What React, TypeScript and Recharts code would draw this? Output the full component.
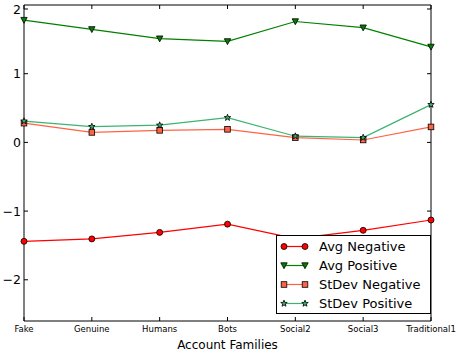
import React from "react";
import { LineChart, Line, XAxis, YAxis } from "recharts";

const families = ["Fake", "Genuine", "Humans", "Bots", "Social2", "Social3", "Traditional1"];
const avgNegative = [-1.44, -1.405, -1.31, -1.19, -1.40, -1.28, -1.13];
const avgPositive = [1.78, 1.645, 1.51, 1.47, 1.76, 1.67, 1.39];
const stdevNegative = [0.28, 0.145, 0.175, 0.19, 0.07, 0.035, 0.225];
const stdevPositive = [0.31, 0.23, 0.25, 0.36, 0.09, 0.07, 0.55];
const yTicks = [-2, -1, 0, 1, 2];

const data = families.map((f, i) => ({
  family: f,
  avgNeg: avgNegative[i],
  avgPos: avgPositive[i],
  sdNeg: stdevNegative[i],
  sdPos: stdevPositive[i],
}));

const font = "'DejaVu Sans', sans-serif";

const fmt = (v: number) => (v < 0 ? "\u2212" + Math.abs(v) : String(v));

const Marker = ({ kind, cx, cy, fill }: any) => {
  if (cx == null || cy == null) return null;
  if (kind === "circle") return <circle cx={cx} cy={cy} r={3} fill={fill} stroke="#000" strokeWidth={0.8} />;
  if (kind === "square")
    return <rect x={cx - 2.8} y={cy - 2.8} width={5.6} height={5.6} fill={fill} stroke="#000" strokeWidth={0.8} />;
  if (kind === "tri")
    return (
      <path d={`M${cx - 3.2},${cy - 2.7} L${cx + 3.2},${cy - 2.7} L${cx},${cy + 3.2} Z`} fill={fill} stroke="#000" strokeWidth={0.8} />
    );
  const pts: string[] = [];
  for (let k = 0; k < 10; k++) {
    const r = k % 2 === 0 ? 3.4 : 1.4;
    const a = -Math.PI / 2 + (k * Math.PI) / 5;
    pts.push(`${cx + r * Math.cos(a)},${cy + r * Math.sin(a)}`);
  }
  return <polygon points={pts.join(" ")} fill={fill} stroke="#000" strokeWidth={0.8} />;
};

const series = [
  { key: "avgNeg", name: "Avg Negative", color: "#ff0000", marker: "circle", fill: "#ff0000" },
  { key: "avgPos", name: "Avg Positive", color: "#008000", marker: "tri", fill: "#008000" },
  { key: "sdNeg", name: "StDev Negative", color: "#ff6347", marker: "square", fill: "#ff6347" },
  { key: "sdPos", name: "StDev Positive", color: "#3cb371", marker: "star", fill: "#3cb371" },
];

const LeftTick = ({ x, y, payload }: any) => (
  <g>
    <line x1={x} y1={y} x2={x + 4} y2={y} stroke="#000" />
    <text x={x - 3} y={y} dy={4.5} textAnchor="end" fontSize={12.5} fontFamily={font} fill="#000">
      {fmt(payload.value)}
    </text>
  </g>
);

const RightTick = ({ x, y }: any) => <line x1={x} y1={y} x2={x - 4} y2={y} stroke="#000" />;

const BottomTick = ({ x, y, payload }: any) => (
  <g>
    <line x1={x} y1={y} x2={x} y2={y - 4} stroke="#000" />
    <text x={x} y={y + 11} textAnchor="middle" fontSize={8.5} fontFamily={font} fill="#000">
      {payload.value}
    </text>
  </g>
);

const TopTick = ({ x, y }: any) => <line x1={x} y1={y} x2={x} y2={y + 4} stroke="#000" />;

const LegendBox = () => (
  <div
    style={{
      position: "absolute",
      left: 276,
      top: 235,
      border: "1px solid #000",
      background: "#fff",
      width: 153,
      height: 76,
      fontFamily: font,
      fontSize: 13,
      paddingTop: 1,
    }}
  >
    {series.map((s) => (
      <div key={s.key} style={{ display: "flex", alignItems: "center", height: 19 }}>
        <svg width={40} height={19}>
          <line x1={7} y1={9.5} x2={28} y2={9.5} stroke={s.color} strokeWidth={1.2} />
          <Marker kind={s.marker} cx={7} cy={9.5} fill={s.fill} />
          <Marker kind={s.marker} cx={28} cy={9.5} fill={s.fill} />
        </svg>
        <span style={{ marginLeft: 2 }}>{s.name}</span>
      </div>
    ))}
  </div>
);

export default function App() {
  return (
    <div style={{ position: "absolute", left: 0, top: 0, width: 458, height: 354, background: "#fff" }}>
      <LineChart width={458} height={354} data={data} margin={{ top: 4, right: 26, left: 0, bottom: 0 }}>
        <XAxis
          dataKey="family"
          height={33}
          axisLine={{ stroke: "#000" }}
          tickLine={false}
          tickSize={0}
          tickMargin={0}
          tick={<BottomTick />}
          interval={0}
          label={{ value: "Account Families", position: "insideBottom", offset: 5, fontSize: 12, fontFamily: font, fill: "#000" }}
        />
        <XAxis
          xAxisId="top"
          dataKey="family"
          orientation="top"
          height={1}
          axisLine={{ stroke: "#000" }}
          tickLine={false}
          tickSize={0}
          tickMargin={0}
          tick={<TopTick />}
          interval={0}
        />
        <YAxis
          type="number"
          domain={[-2.6, 2]}
          ticks={yTicks}
          width={24}
          axisLine={{ stroke: "#000" }}
          tickLine={false}
          tickSize={0}
          tickMargin={0}
          tick={<LeftTick />}
          allowDataOverflow
        />
        <YAxis
          yAxisId="right"
          orientation="right"
          type="number"
          domain={[-2.6, 2]}
          ticks={yTicks}
          width={1}
          axisLine={{ stroke: "#000" }}
          tickLine={false}
          tickSize={0}
          tickMargin={0}
          tick={<RightTick />}
          allowDataOverflow
        />
        {/* invisible series to keep the top/right frame axes alive */}
        <Line
          xAxisId="top"
          yAxisId="right"
          dataKey="avgNeg"
          stroke="none"
          dot={false}
          activeDot={false}
          isAnimationActive={false}
          legendType="none"
        />
        {series.map((s) => (
          <Line
            key={s.key}
            dataKey={s.key}
            name={s.name}
            type="linear"
            stroke={s.color}
            strokeWidth={1.2}
            isAnimationActive={false}
            dot={(p: any) => <Marker key={`${s.key}-${p.index}`} kind={s.marker} cx={p.cx} cy={p.cy} fill={s.fill} />}
            activeDot={false}
          />
        ))}
      </LineChart>
      <LegendBox />
    </div>
  );
}
